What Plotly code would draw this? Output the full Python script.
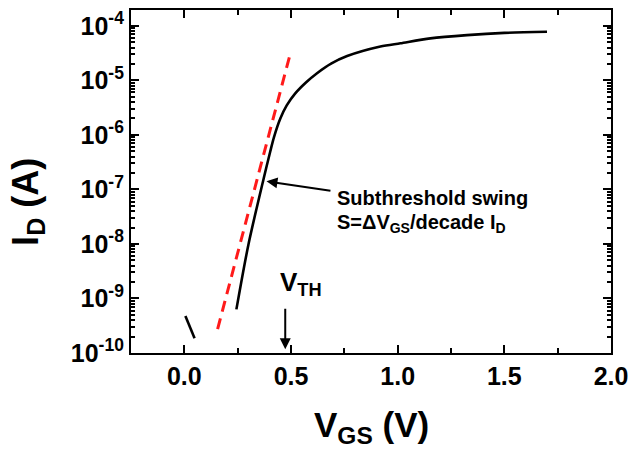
import plotly.graph_objects as go

# Transfer curve (V_GS in V, I_D in A)
vgs_main = [0.244, 0.301, 0.372, 0.403, 0.42, 0.45, 0.48, 0.52, 0.57, 0.622, 0.69, 0.763, 0.919, 1.013, 1.153, 1.325, 1.50, 1.70]
id_log_main = [-9.20, -8.00, -6.80, -6.30, -6.045, -5.70, -5.46, -5.24, -5.04, -4.87, -4.69, -4.555, -4.38, -4.32, -4.23, -4.17, -4.13, -4.11]
id_main = [10 ** v for v in id_log_main]

# short off-state segment near 0 V
vgs_off = [0.005, 0.048]
id_off = [10 ** -9.32, 10 ** -9.73]

# subthreshold slope fit (red dashed)
vgs_fit = [0.156, 0.494]
id_fit = [10 ** -9.56, 10 ** -4.55]

x_ticks = [0.0, 0.5, 1.0, 1.5, 2.0]
x_ticktext = ["0.0", "0.5", "1.0", "1.5", "2.0"]
y_exps = [-10, -9, -8, -7, -6, -5, -4]
y_ticks = [10 ** e for e in y_exps]
y_ticktext = ["10<sup>%d</sup>" % e for e in y_exps]
y_minor = [k * 10 ** e for e in range(-10, -3) for k in range(2, 10)]

FONT = "Liberation Sans, Arial, sans-serif"

fig = go.Figure()
fig.add_trace(go.Scatter(x=vgs_main, y=id_main, mode="lines",
                         line=dict(color="black", width=2.6, shape="spline", smoothing=0.8)))
fig.add_trace(go.Scatter(x=vgs_off, y=id_off, mode="lines",
                         line=dict(color="black", width=2.6)))
fig.add_trace(go.Scatter(x=vgs_fit, y=id_fit, mode="lines",
                         line=dict(color="#ff1a1a", width=3, dash="11px,7px")))

axis_common = dict(showline=True, linewidth=2.2, linecolor="black", mirror="ticks",
                   ticks="inside", ticklen=8, tickwidth=2, tickcolor="black",
                   showgrid=False, zeroline=False,
                   tickfont=dict(family=FONT, size=25, color="black", weight="bold"))

fig.update_layout(
    width=636, height=450,
    margin=dict(l=131, r=25, t=8, b=97),
    paper_bgcolor="white", plot_bgcolor="white",
    showlegend=False,
    font=dict(family=FONT, color="black"),
    xaxis=dict(range=[-0.25, 2.0], tickvals=x_ticks, ticktext=x_ticktext,
               minor=dict(ticks="inside", ticklen=5, tickwidth=2, tickcolor="black", dtick=0.25, tick0=0),
               **axis_common),
    yaxis=dict(type="log", range=[-10, -3.71], tickvals=y_ticks, ticktext=y_ticktext,
               minor=dict(ticks="inside", ticklen=4, tickwidth=1.5, tickcolor="black", tickvals=y_minor),
               **axis_common),
)

ann_font = dict(family=FONT, size=20, color="black", weight="bold")
fig.add_annotation(x=0.385, y=-6.85, ax=0.692, ay=-7.03, xref="x", yref="y", axref="x", ayref="y",
                   text="", showarrow=True, arrowhead=2, arrowsize=1.1, arrowwidth=2, arrowcolor="black")
fig.add_annotation(x=0.708, y=-7.155, xref="x", yref="y", text="Subthreshold swing",
                   showarrow=False, xanchor="left", yanchor="middle", font=ann_font)
fig.add_annotation(x=0.708, y=-7.62, xref="x", yref="y",
                   text="S=ΔV<sub>GS</sub>/decade I<sub>D</sub>",
                   showarrow=False, xanchor="left", yanchor="middle", font=ann_font)

# V_TH marker
fig.add_annotation(x=0.473, y=-9.93, ax=0.473, ay=-9.16, xref="x", yref="y", axref="x", ayref="y",
                   text="", showarrow=True, arrowhead=2, arrowsize=1.1, arrowwidth=2, arrowcolor="black")
fig.add_annotation(x=0.441, y=-8.72, xref="x", yref="y", text="V<sub>TH</sub>",
                   showarrow=False, xanchor="left", yanchor="middle",
                   font=dict(family=FONT, size=26, color="black", weight="bold"))

# axis titles
fig.add_annotation(x=0.5, y=-0.215, xref="paper", yref="paper", text="V<sub>GS</sub> (V)",
                   showarrow=False, xanchor="center", yanchor="middle",
                   font=dict(family=FONT, size=35, color="black", weight="bold"))
fig.add_annotation(x=-0.215, y=0.44, xref="paper", yref="paper", text="I<sub>D</sub> (A)",
                   showarrow=False, xanchor="center", yanchor="middle", textangle=-90,
                   font=dict(family=FONT, size=36, color="black", weight="bold"))

fig.write_html("out.html", config={"displayModeBar": False},
               post_script="document.body.style.margin='0';document.body.style.overflow='hidden';")
